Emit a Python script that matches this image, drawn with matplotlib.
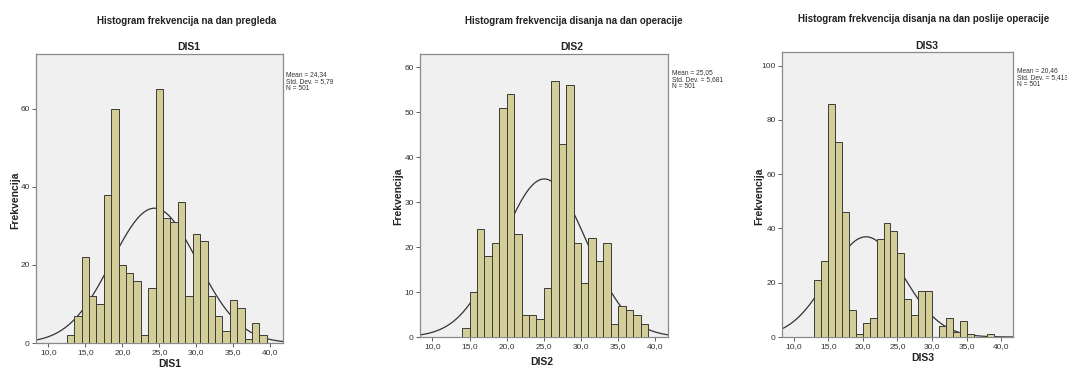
import numpy as np
import matplotlib
matplotlib.use("Agg")
import matplotlib.pyplot as plt
from matplotlib.ticker import FuncFormatter

W, H = 1067, 371

# --- data ---
titles = ["Histogram frekvencija na dan pregleda",
          "Histogram frekvencija disanja na dan operacije",
          "Histogram frekvencija disanja na dan poslije operacije"]
names = ["DIS1", "DIS2", "DIS3"]

dis1_start = 12.5
dis1_counts = [2, 7, 22, 12, 10, 38, 60, 20, 18, 16, 2, 14, 65, 32, 31, 36,
               12, 28, 26, 12, 7, 3, 11, 9, 1, 5, 2]
dis2_start = 14.0
dis2_counts = [2, 10, 24, 18, 21, 51, 54, 23, 5, 5, 4, 11, 57, 43, 56, 21,
               12, 22, 17, 21, 3, 7, 6, 5, 3]
dis3_start = 13.0
dis3_counts = [21, 28, 86, 72, 46, 10, 1, 5, 7, 36, 42, 39, 31, 14, 8, 17,
               17, 0, 4, 7, 2, 6, 1, 0, 0, 1]

means = [24.34, 25.05, 20.46]
sds = [5.79, 5.681, 5.413]
ns = [501, 501, 501]
mean_txt = ["24,34", "25,05", "20,46"]
sd_txt = ["5,79", "5,681", "5,413"]

yticks = [[0, 20, 40, 60], [0, 10, 20, 30, 40, 50, 60], [0, 20, 40, 60, 80, 100]]
ytops = [74, 63, 105]
xticks = [10, 15, 20, 25, 30, 35, 40]

starts = [dis1_start, dis2_start, dis3_start]
counts = [dis1_counts, dis2_counts, dis3_counts]

# --- layout in pixels (left, top, right, bottom) ---
boxes = [(36, 54, 283, 343), (420, 54, 668, 337), (782, 52, 1013, 337)]
title_pos = [(187, 21), (574, 21), (924, 19)]
sub_pos = [(189, 47), (572, 47), (927, 46)]
xlab_pos = [(170, 364), (542, 362), (923, 358)]
ylab_pos = [(15, 200), (398, 196), (759, 196)]
stat_pos = [(286, 71), (672, 69), (1017, 67)]

plt.rcParams['font.family'] = ['Liberation Sans', 'DejaVu Sans']

fig = plt.figure(figsize=(W / 100, H / 100), dpi=100)


def fx(px):
    return px / W


def fy(py):
    return 1 - py / H


comma = FuncFormatter(lambda v, p: f"{v:.1f}".replace(".", ","))
bar_col = "#d3ce97"
edge_col = "#3a3a3a"

for i in range(3):
    l, t, r, b = boxes[i]
    ax = fig.add_axes([fx(l), fy(b), fx(r - l), (b - t) / H])
    ax.set_facecolor("#f0f0f0")
    c = np.array(counts[i])
    lefts = starts[i] + np.arange(len(c))
    ax.bar(lefts, c, width=1.0, align="edge", color=bar_col,
           edgecolor=edge_col, linewidth=0.7, zorder=3)

    # fitted normal curve, scaled to counts (bin width 1)
    xs = np.linspace(8.33, 41.7, 300)
    pdf = np.exp(-0.5 * ((xs - means[i]) / sds[i]) ** 2) / (sds[i] * np.sqrt(2 * np.pi))
    ax.plot(xs, ns[i] * pdf, color="#333333", lw=0.9, zorder=2)

    ax.set_xlim(8.33, 41.7)
    ax.set_ylim(0, ytops[i])
    ax.set_xticks(xticks)
    ax.xaxis.set_major_formatter(comma)
    ax.set_yticks(yticks[i])
    ax.tick_params(labelsize=6, length=3, width=0.6, color="#444444",
                   labelcolor="#333333", pad=1.5)
    for s in ax.spines.values():
        s.set_color("#8a8a8a")
        s.set_linewidth(0.9)

    fig.text(fx(title_pos[i][0]), fy(title_pos[i][1]), titles[i],
             ha="center", va="center", fontsize=7, fontweight="bold",
             color="#222222")
    fig.text(fx(sub_pos[i][0]), fy(sub_pos[i][1]), names[i],
             ha="center", va="center", fontsize=7.5, fontweight="bold",
             color="#222222")
    fig.text(fx(xlab_pos[i][0]), fy(xlab_pos[i][1]), names[i],
             ha="center", va="center", fontsize=7.5, fontweight="bold",
             color="#222222")
    fig.text(fx(ylab_pos[i][0]), fy(ylab_pos[i][1]), "Frekvencija",
             ha="center", va="center", rotation=90, fontsize=7.5,
             fontweight="bold", color="#222222")
    stats = f"Mean = {mean_txt[i]}\nStd. Dev. = {sd_txt[i]}\nN = {ns[i]}"
    fig.text(fx(stat_pos[i][0]), fy(stat_pos[i][1]), stats,
             ha="left", va="top", fontsize=4.8, color="#333333",
             linespacing=1.0)

fig.savefig("out.png", dpi=100)
